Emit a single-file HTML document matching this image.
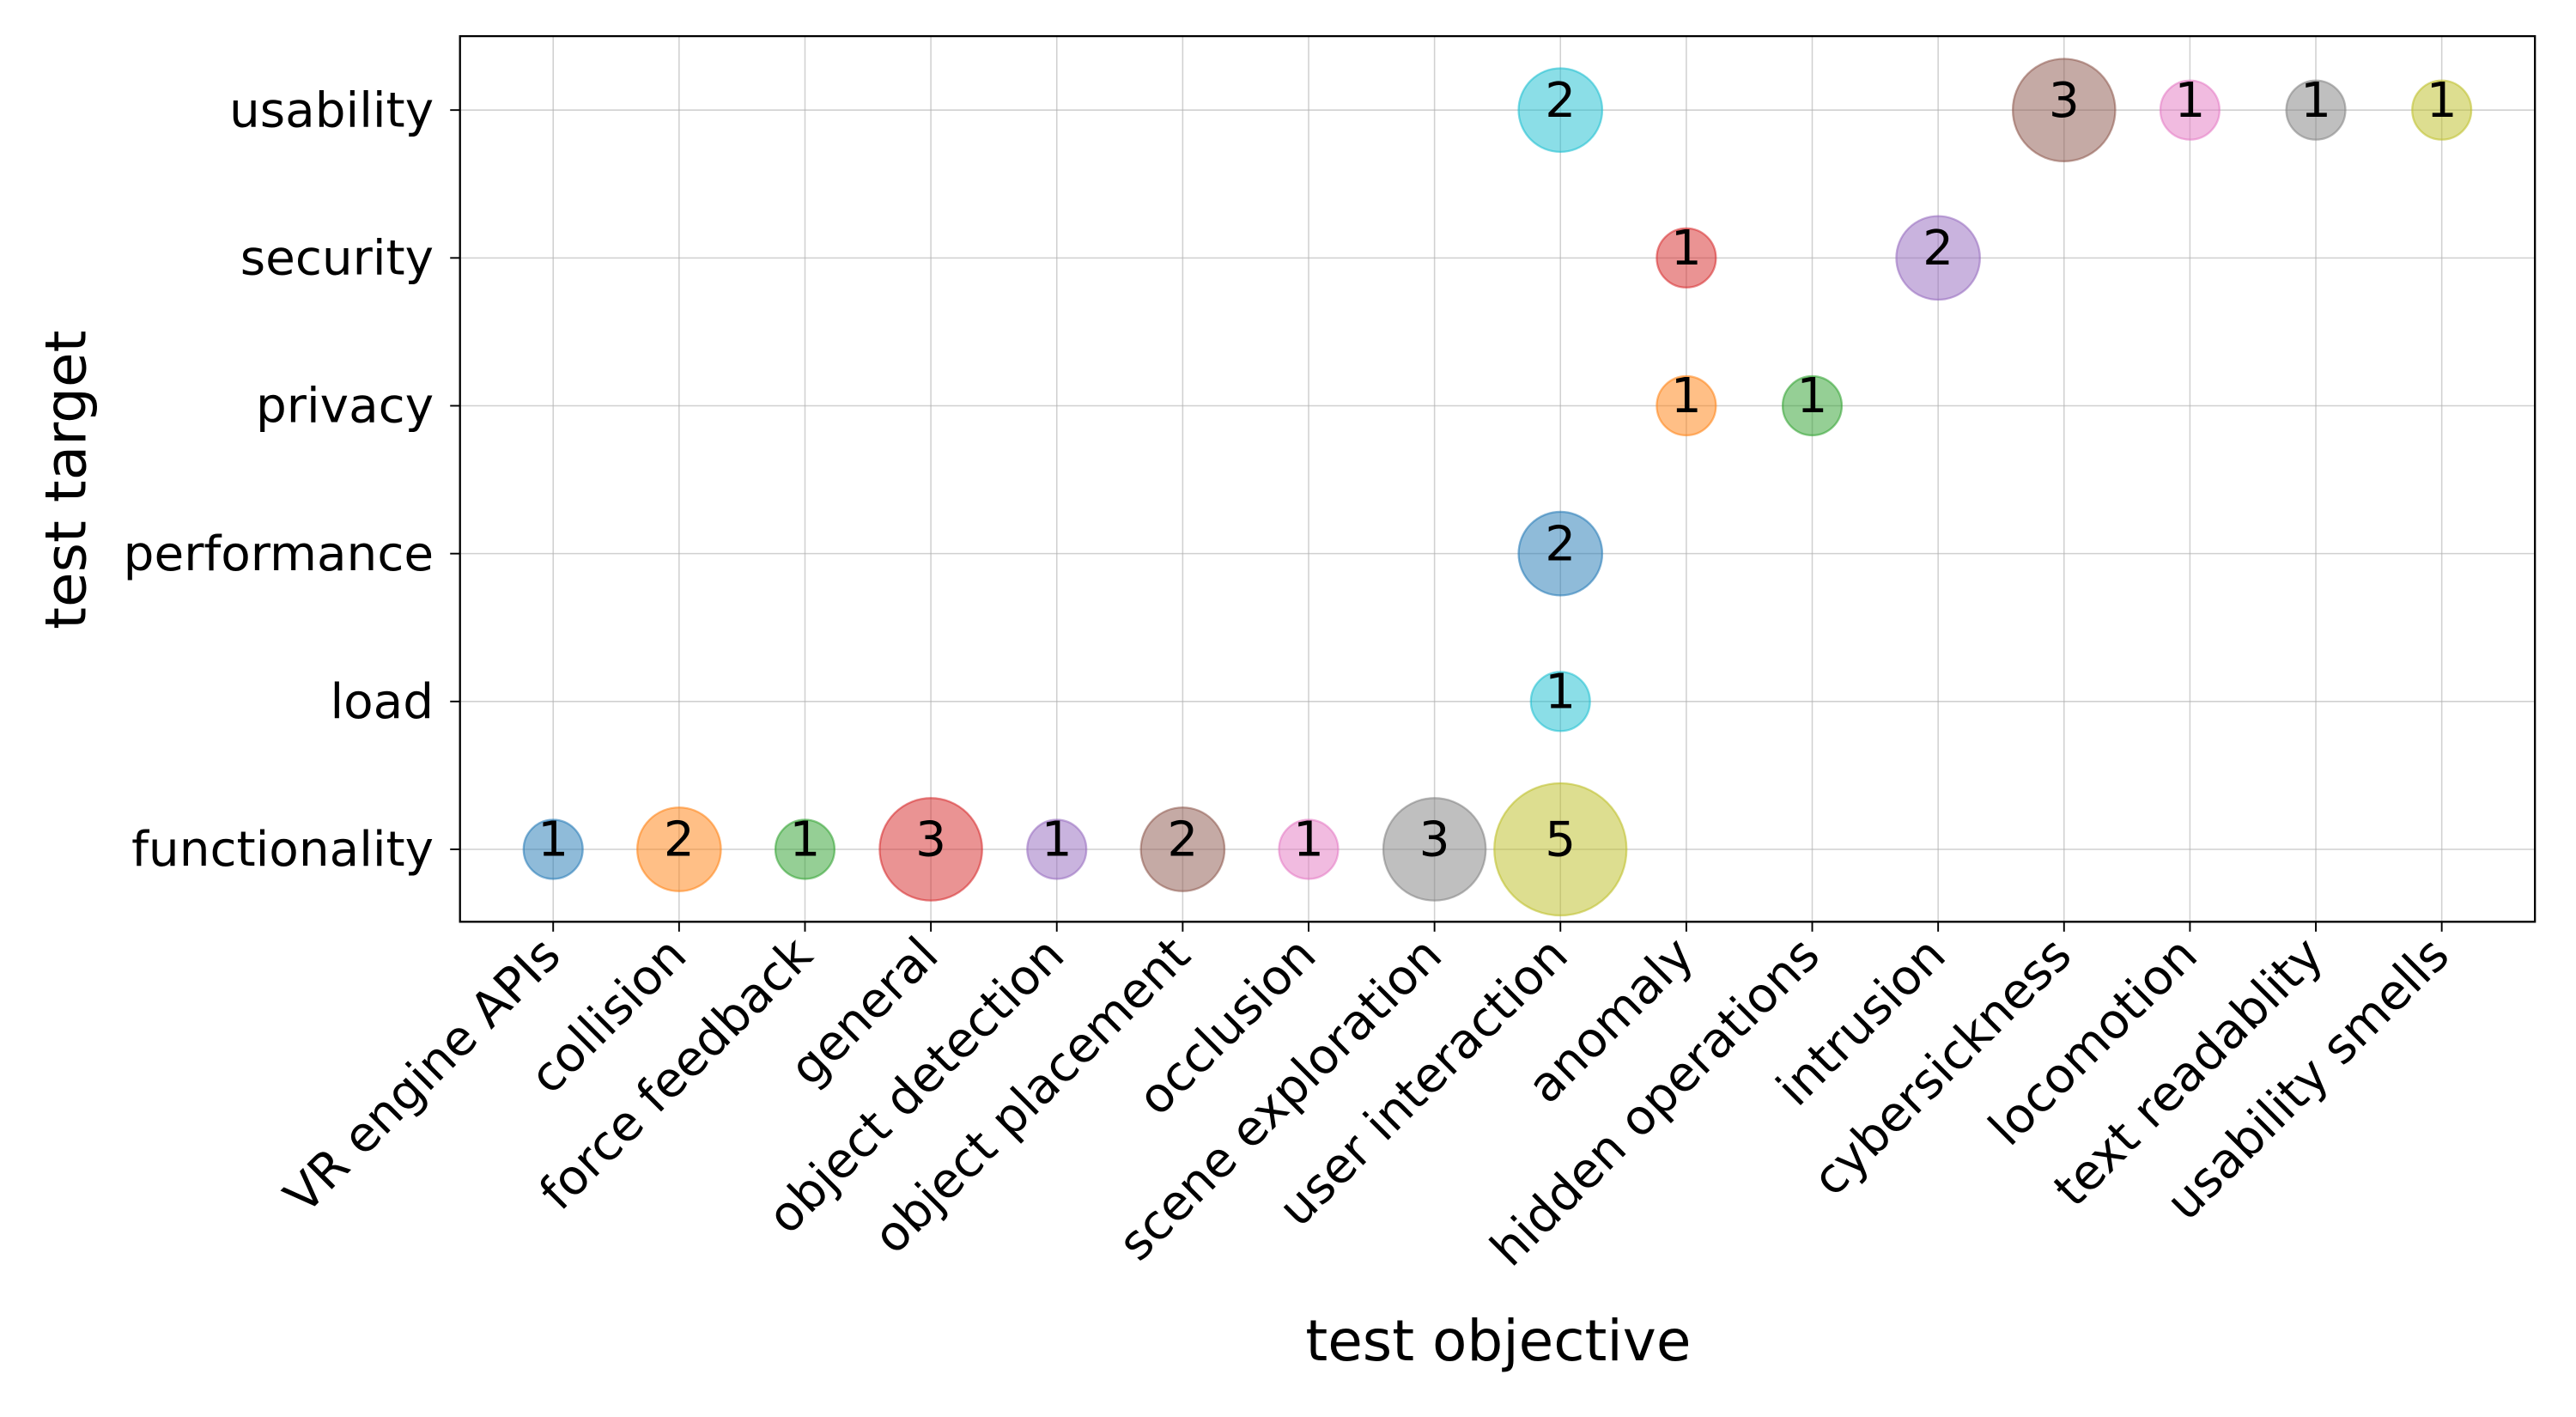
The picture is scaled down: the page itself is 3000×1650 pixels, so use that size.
<!DOCTYPE html>
<html><head><meta charset="utf-8"><style>html,body{margin:0;padding:0;background:#fff}svg{display:block}</style></head>
<body>
<svg id="chart" xmlns="http://www.w3.org/2000/svg" width="3000" height="1650" viewBox="0 0 1568 862.4" font-family="'DejaVu Sans','Liberation Sans',sans-serif">
<rect x="0" y="0" width="1568" height="862.4" fill="#fff"/>
<g id="grid"></g>
<g id="ticks"></g>
<g id="points"></g>
<rect x="280" y="22" width="1263" height="539" fill="none" stroke="#000" stroke-width="1.2"/>
<text x="912" y="828" font-size="34.5" text-anchor="middle">test objective</text>
<text transform="translate(52,292) rotate(-90)" font-size="34.5" text-anchor="middle">test target</text>
</svg>
<script>
const xCategories = ["VR engine APIs","collision","force feedback","general","object detection","object placement","occlusion","scene exploration","user interaction","anomaly","hidden operations","intrusion","cybersickness","locomotion","text readablity","usability smells"];
const yCategories = ["functionality","load","performance","privacy","security","usability"];
const pointX = [0,1,2,3,4,5,6,7,8, 8, 8, 9,10, 9,11, 8,12,13,14,15];
const pointY = [0,0,0,0,0,0,0,0,0, 1, 2, 3,3, 4,4, 5,5,5,5,5];
const pointCount = [1,2,1,3,1,2,1,3,5, 1, 2, 1,1, 1,2, 2,3,1,1,1];
const pointColor = ["#1f77b4","#ff7f0e","#2ca02c","#d62728","#9467bd","#8c564b","#e377c2","#7f7f7f","#bcbd22","#17becf","#1f77b4","#ff7f0e","#2ca02c","#d62728","#9467bd","#17becf","#8c564b","#e377c2","#7f7f7f","#bcbd22"];

const L=280,R=1543,T=22,B=561;
const xmin=-0.74,xmax=15.74,ymin=-0.49,ymax=5.5;
const sx=v=>L+(v-xmin)/(xmax-xmin)*(R-L);
const sy=v=>B-(v-ymin)/(ymax-ymin)*(B-T);
const NS="http://www.w3.org/2000/svg";
const mk=(tag,attrs,parent)=>{const e=document.createElementNS(NS,tag);for(const k in attrs)e.setAttribute(k,attrs[k]);parent.appendChild(e);return e;};
const grid=document.getElementById('grid'),ticks=document.getElementById('ticks'),pts=document.getElementById('points');
const FS=29.5;
xCategories.forEach((c,i)=>{
  const x=sx(i);
  const g=mk('line',{x1:x,x2:x,y1:T,y2:B,stroke:'#b0b0b0','stroke-width':0.8,'stroke-opacity':0.6},grid);
  
  
  const tk=mk('line',{x1:x,x2:x,y1:B,y2:B+6,stroke:'#000','stroke-width':1},ticks);
  
  
  const t=mk('text',{transform:`translate(${x+6},${B+22}) rotate(-45)`,'font-size':FS,'text-anchor':'end'},ticks);
  t.textContent=c;
  
  
});
yCategories.forEach((c,i)=>{
  const y=sy(i);
  const g=mk('line',{x1:L,x2:R,y1:y,y2:y,stroke:'#b0b0b0','stroke-width':0.8,'stroke-opacity':0.6},grid);
  
  
  const tk=mk('line',{x1:L-6,x2:L,y1:y,y2:y,stroke:'#000','stroke-width':1},ticks);
  
  
  const t=mk('text',{x:L-16,y:y+10,'font-size':FS,'text-anchor':'end'},ticks);
  t.textContent=c;
  
  
});
pointX.forEach((xv,i)=>{
  const cx=sx(xv),cy=sy(pointY[i]),r=18*Math.sqrt(pointCount[i]);
  const c=mk('circle',{cx:cx,cy:cy,r:r,fill:pointColor[i],'fill-opacity':0.5,stroke:pointColor[i],'stroke-opacity':0.55,'stroke-width':1.2},pts);
  
  
  const t=mk('text',{x:cx,y:cy+4,'font-size':FS,'text-anchor':'middle'},pts);
  t.textContent=pointCount[i];
  
  
});
</script>
</body></html>
